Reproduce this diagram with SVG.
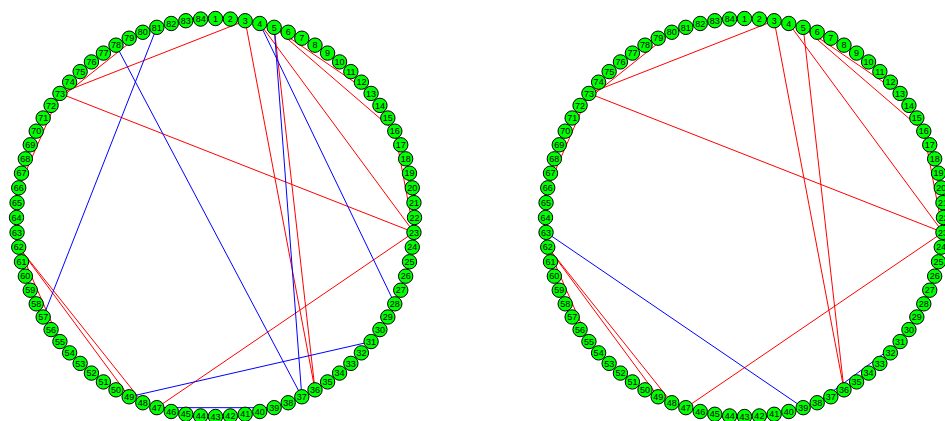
<svg xmlns="http://www.w3.org/2000/svg" width="945" height="421" viewBox="0 0 945 421">
<style>
.n circle{fill:#00ff00;stroke:#000;stroke-width:1}
.n text{font-family:"Liberation Sans",Arial,sans-serif;font-size:9px;fill:#000;text-anchor:middle}
.r{stroke:#ff0000;stroke-width:1;fill:none}
.b{stroke:#0000ff;stroke-width:1;fill:none}
</style>
<rect width="945" height="421" fill="#fff"/>
<g id="left" transform="translate(215.5,217.5)">
<g id="left-connectors">
<line class="r" x1="29.66" y1="-196.78" x2="-155.58" y2="-124.07"/>
<line class="r" x1="29.66" y1="-196.78" x2="99.5" y2="172.34"/>
<line class="r" x1="44.28" y1="-194.01" x2="198.44" y2="14.87"/>
<line class="r" x1="58.66" y1="-190.16" x2="99.5" y2="172.34"/>
<line class="r" x1="58.66" y1="-190.16" x2="155.58" y2="-124.07"/>
<line class="r" x1="58.66" y1="-190.16" x2="179.29" y2="-86.34"/>
<line class="r" x1="179.29" y1="-86.34" x2="198.44" y2="14.87"/>
<line class="r" x1="-155.58" y1="-124.07" x2="198.44" y2="14.87"/>
<line class="r" x1="-72.70" y1="-185.24" x2="-164.42" y2="-112.10"/>
<line class="r" x1="-155.58" y1="-124.07" x2="-196.78" y2="-29.66"/>
<line class="r" x1="-196.78" y1="29.66" x2="-155.58" y2="124.07"/>
<line class="r" x1="-196.78" y1="29.66" x2="-72.70" y2="185.24"/>
<line class="r" x1="-196.78" y1="29.66" x2="-86.34" y2="179.29"/>
<line class="r" x1="-58.66" y1="190.16" x2="198.44" y2="14.87"/>
<line class="r" x1="185.24" y1="72.70" x2="164.42" y2="112.10"/>
<line class="b" x1="-99.5" y1="-172.34" x2="86.34" y2="179.29"/>
<line class="b" x1="-58.66" y1="-190.16" x2="-172.34" y2="99.5"/>
<line class="b" x1="44.28" y1="-194.01" x2="179.29" y2="86.34"/>
<line class="b" x1="58.66" y1="-190.16" x2="86.34" y2="179.29"/>
<line class="b" x1="-86.34" y1="179.29" x2="155.58" y2="124.07"/>
<line class="b" x1="-58.66" y1="190.16" x2="58.66" y2="190.16"/>
</g>
<g id="L1" class="n" transform="translate(0,-199)"><circle r="7.2"/><text y="3.2">1</text></g>
<g id="L2" class="n" transform="translate(14.87,-198.44)"><circle r="7.2"/><text y="3.2">2</text></g>
<g id="L3" class="n" transform="translate(29.66,-196.78)"><circle r="7.2"/><text y="3.2">3</text></g>
<g id="L4" class="n" transform="translate(44.28,-194.01)"><circle r="7.2"/><text y="3.2">4</text></g>
<g id="L5" class="n" transform="translate(58.66,-190.16)"><circle r="7.2"/><text y="3.2">5</text></g>
<g id="L6" class="n" transform="translate(72.70,-185.24)"><circle r="7.2"/><text y="3.2">6</text></g>
<g id="L7" class="n" transform="translate(86.34,-179.29)"><circle r="7.2"/><text y="3.2">7</text></g>
<g id="L8" class="n" transform="translate(99.5,-172.34)"><circle r="7.2"/><text y="3.2">8</text></g>
<g id="L9" class="n" transform="translate(112.10,-164.42)"><circle r="7.2"/><text y="3.2">9</text></g>
<g id="L10" class="n" transform="translate(124.07,-155.58)"><circle r="7.2"/><text y="3.2">10</text></g>
<g id="L11" class="n" transform="translate(135.35,-145.88)"><circle r="7.2"/><text y="3.2">11</text></g>
<g id="L12" class="n" transform="translate(145.88,-135.35)"><circle r="7.2"/><text y="3.2">12</text></g>
<g id="L13" class="n" transform="translate(155.58,-124.07)"><circle r="7.2"/><text y="3.2">13</text></g>
<g id="L14" class="n" transform="translate(164.42,-112.10)"><circle r="7.2"/><text y="3.2">14</text></g>
<g id="L15" class="n" transform="translate(172.34,-99.5)"><circle r="7.2"/><text y="3.2">15</text></g>
<g id="L16" class="n" transform="translate(179.29,-86.34)"><circle r="7.2"/><text y="3.2">16</text></g>
<g id="L17" class="n" transform="translate(185.24,-72.70)"><circle r="7.2"/><text y="3.2">17</text></g>
<g id="L18" class="n" transform="translate(190.16,-58.66)"><circle r="7.2"/><text y="3.2">18</text></g>
<g id="L19" class="n" transform="translate(194.01,-44.28)"><circle r="7.2"/><text y="3.2">19</text></g>
<g id="L20" class="n" transform="translate(196.78,-29.66)"><circle r="7.2"/><text y="3.2">20</text></g>
<g id="L21" class="n" transform="translate(198.44,-14.87)"><circle r="7.2"/><text y="3.2">21</text></g>
<g id="L22" class="n" transform="translate(199,0)"><circle r="7.2"/><text y="3.2">22</text></g>
<g id="L23" class="n" transform="translate(198.44,14.87)"><circle r="7.2"/><text y="3.2">23</text></g>
<g id="L24" class="n" transform="translate(196.78,29.66)"><circle r="7.2"/><text y="3.2">24</text></g>
<g id="L25" class="n" transform="translate(194.01,44.28)"><circle r="7.2"/><text y="3.2">25</text></g>
<g id="L26" class="n" transform="translate(190.16,58.66)"><circle r="7.2"/><text y="3.2">26</text></g>
<g id="L27" class="n" transform="translate(185.24,72.70)"><circle r="7.2"/><text y="3.2">27</text></g>
<g id="L28" class="n" transform="translate(179.29,86.34)"><circle r="7.2"/><text y="3.2">28</text></g>
<g id="L29" class="n" transform="translate(172.34,99.5)"><circle r="7.2"/><text y="3.2">29</text></g>
<g id="L30" class="n" transform="translate(164.42,112.10)"><circle r="7.2"/><text y="3.2">30</text></g>
<g id="L31" class="n" transform="translate(155.58,124.07)"><circle r="7.2"/><text y="3.2">31</text></g>
<g id="L32" class="n" transform="translate(145.88,135.35)"><circle r="7.2"/><text y="3.2">32</text></g>
<g id="L33" class="n" transform="translate(135.35,145.88)"><circle r="7.2"/><text y="3.2">33</text></g>
<g id="L34" class="n" transform="translate(124.07,155.58)"><circle r="7.2"/><text y="3.2">34</text></g>
<g id="L35" class="n" transform="translate(112.10,164.42)"><circle r="7.2"/><text y="3.2">35</text></g>
<g id="L36" class="n" transform="translate(99.5,172.34)"><circle r="7.2"/><text y="3.2">36</text></g>
<g id="L37" class="n" transform="translate(86.34,179.29)"><circle r="7.2"/><text y="3.2">37</text></g>
<g id="L38" class="n" transform="translate(72.70,185.24)"><circle r="7.2"/><text y="3.2">38</text></g>
<g id="L39" class="n" transform="translate(58.66,190.16)"><circle r="7.2"/><text y="3.2">39</text></g>
<g id="L40" class="n" transform="translate(44.28,194.01)"><circle r="7.2"/><text y="3.2">40</text></g>
<g id="L41" class="n" transform="translate(29.66,196.78)"><circle r="7.2"/><text y="3.2">41</text></g>
<g id="L42" class="n" transform="translate(14.87,198.44)"><circle r="7.2"/><text y="3.2">42</text></g>
<g id="L43" class="n" transform="translate(0,199)"><circle r="7.2"/><text y="3.2">43</text></g>
<g id="L44" class="n" transform="translate(-14.87,198.44)"><circle r="7.2"/><text y="3.2">44</text></g>
<g id="L45" class="n" transform="translate(-29.66,196.78)"><circle r="7.2"/><text y="3.2">45</text></g>
<g id="L46" class="n" transform="translate(-44.28,194.01)"><circle r="7.2"/><text y="3.2">46</text></g>
<g id="L47" class="n" transform="translate(-58.66,190.16)"><circle r="7.2"/><text y="3.2">47</text></g>
<g id="L48" class="n" transform="translate(-72.70,185.24)"><circle r="7.2"/><text y="3.2">48</text></g>
<g id="L49" class="n" transform="translate(-86.34,179.29)"><circle r="7.2"/><text y="3.2">49</text></g>
<g id="L50" class="n" transform="translate(-99.5,172.34)"><circle r="7.2"/><text y="3.2">50</text></g>
<g id="L51" class="n" transform="translate(-112.10,164.42)"><circle r="7.2"/><text y="3.2">51</text></g>
<g id="L52" class="n" transform="translate(-124.07,155.58)"><circle r="7.2"/><text y="3.2">52</text></g>
<g id="L53" class="n" transform="translate(-135.35,145.88)"><circle r="7.2"/><text y="3.2">53</text></g>
<g id="L54" class="n" transform="translate(-145.88,135.35)"><circle r="7.2"/><text y="3.2">54</text></g>
<g id="L55" class="n" transform="translate(-155.58,124.07)"><circle r="7.2"/><text y="3.2">55</text></g>
<g id="L56" class="n" transform="translate(-164.42,112.10)"><circle r="7.2"/><text y="3.2">56</text></g>
<g id="L57" class="n" transform="translate(-172.34,99.5)"><circle r="7.2"/><text y="3.2">57</text></g>
<g id="L58" class="n" transform="translate(-179.29,86.34)"><circle r="7.2"/><text y="3.2">58</text></g>
<g id="L59" class="n" transform="translate(-185.24,72.70)"><circle r="7.2"/><text y="3.2">59</text></g>
<g id="L60" class="n" transform="translate(-190.16,58.66)"><circle r="7.2"/><text y="3.2">60</text></g>
<g id="L61" class="n" transform="translate(-194.01,44.28)"><circle r="7.2"/><text y="3.2">61</text></g>
<g id="L62" class="n" transform="translate(-196.78,29.66)"><circle r="7.2"/><text y="3.2">62</text></g>
<g id="L63" class="n" transform="translate(-198.44,14.87)"><circle r="7.2"/><text y="3.2">63</text></g>
<g id="L64" class="n" transform="translate(-199,0)"><circle r="7.2"/><text y="3.2">64</text></g>
<g id="L65" class="n" transform="translate(-198.44,-14.87)"><circle r="7.2"/><text y="3.2">65</text></g>
<g id="L66" class="n" transform="translate(-196.78,-29.66)"><circle r="7.2"/><text y="3.2">66</text></g>
<g id="L67" class="n" transform="translate(-194.01,-44.28)"><circle r="7.2"/><text y="3.2">67</text></g>
<g id="L68" class="n" transform="translate(-190.16,-58.66)"><circle r="7.2"/><text y="3.2">68</text></g>
<g id="L69" class="n" transform="translate(-185.24,-72.70)"><circle r="7.2"/><text y="3.2">69</text></g>
<g id="L70" class="n" transform="translate(-179.29,-86.34)"><circle r="7.2"/><text y="3.2">70</text></g>
<g id="L71" class="n" transform="translate(-172.34,-99.5)"><circle r="7.2"/><text y="3.2">71</text></g>
<g id="L72" class="n" transform="translate(-164.42,-112.10)"><circle r="7.2"/><text y="3.2">72</text></g>
<g id="L73" class="n" transform="translate(-155.58,-124.07)"><circle r="7.2"/><text y="3.2">73</text></g>
<g id="L74" class="n" transform="translate(-145.88,-135.35)"><circle r="7.2"/><text y="3.2">74</text></g>
<g id="L75" class="n" transform="translate(-135.35,-145.88)"><circle r="7.2"/><text y="3.2">75</text></g>
<g id="L76" class="n" transform="translate(-124.07,-155.58)"><circle r="7.2"/><text y="3.2">76</text></g>
<g id="L77" class="n" transform="translate(-112.10,-164.42)"><circle r="7.2"/><text y="3.2">77</text></g>
<g id="L78" class="n" transform="translate(-99.5,-172.34)"><circle r="7.2"/><text y="3.2">78</text></g>
<g id="L79" class="n" transform="translate(-86.34,-179.29)"><circle r="7.2"/><text y="3.2">79</text></g>
<g id="L80" class="n" transform="translate(-72.70,-185.24)"><circle r="7.2"/><text y="3.2">80</text></g>
<g id="L81" class="n" transform="translate(-58.66,-190.16)"><circle r="7.2"/><text y="3.2">81</text></g>
<g id="L82" class="n" transform="translate(-44.28,-194.01)"><circle r="7.2"/><text y="3.2">82</text></g>
<g id="L83" class="n" transform="translate(-29.66,-196.78)"><circle r="7.2"/><text y="3.2">83</text></g>
<g id="L84" class="n" transform="translate(-14.87,-198.44)"><circle r="7.2"/><text y="3.2">84</text></g>
</g>
<g id="right" transform="translate(744.5,217.5)">
<g id="right-connectors">
<line class="r" x1="29.66" y1="-196.78" x2="-155.58" y2="-124.07"/>
<line class="r" x1="29.66" y1="-196.78" x2="99.5" y2="172.34"/>
<line class="r" x1="44.28" y1="-194.01" x2="198.44" y2="14.87"/>
<line class="r" x1="58.66" y1="-190.16" x2="99.5" y2="172.34"/>
<line class="r" x1="58.66" y1="-190.16" x2="155.58" y2="-124.07"/>
<line class="r" x1="58.66" y1="-190.16" x2="179.29" y2="-86.34"/>
<line class="r" x1="179.29" y1="-86.34" x2="198.44" y2="14.87"/>
<line class="r" x1="-155.58" y1="-124.07" x2="198.44" y2="14.87"/>
<line class="r" x1="-72.70" y1="-185.24" x2="-164.42" y2="-112.10"/>
<line class="r" x1="-155.58" y1="-124.07" x2="-196.78" y2="-29.66"/>
<line class="r" x1="-196.78" y1="29.66" x2="-155.58" y2="124.07"/>
<line class="r" x1="-196.78" y1="29.66" x2="-72.70" y2="185.24"/>
<line class="r" x1="-196.78" y1="29.66" x2="-86.34" y2="179.29"/>
<line class="r" x1="-58.66" y1="190.16" x2="198.44" y2="14.87"/>
<line class="r" x1="185.24" y1="72.70" x2="164.42" y2="112.10"/>
<line class="b" x1="-198.44" y1="14.87" x2="58.66" y2="190.16"/>
<line class="b" x1="72.70" y1="185.24" x2="155.58" y2="124.07"/>
</g>
<g id="R1" class="n" transform="translate(0,-199)"><circle r="7.2"/><text y="3.2">1</text></g>
<g id="R2" class="n" transform="translate(14.87,-198.44)"><circle r="7.2"/><text y="3.2">2</text></g>
<g id="R3" class="n" transform="translate(29.66,-196.78)"><circle r="7.2"/><text y="3.2">3</text></g>
<g id="R4" class="n" transform="translate(44.28,-194.01)"><circle r="7.2"/><text y="3.2">4</text></g>
<g id="R5" class="n" transform="translate(58.66,-190.16)"><circle r="7.2"/><text y="3.2">5</text></g>
<g id="R6" class="n" transform="translate(72.70,-185.24)"><circle r="7.2"/><text y="3.2">6</text></g>
<g id="R7" class="n" transform="translate(86.34,-179.29)"><circle r="7.2"/><text y="3.2">7</text></g>
<g id="R8" class="n" transform="translate(99.5,-172.34)"><circle r="7.2"/><text y="3.2">8</text></g>
<g id="R9" class="n" transform="translate(112.10,-164.42)"><circle r="7.2"/><text y="3.2">9</text></g>
<g id="R10" class="n" transform="translate(124.07,-155.58)"><circle r="7.2"/><text y="3.2">10</text></g>
<g id="R11" class="n" transform="translate(135.35,-145.88)"><circle r="7.2"/><text y="3.2">11</text></g>
<g id="R12" class="n" transform="translate(145.88,-135.35)"><circle r="7.2"/><text y="3.2">12</text></g>
<g id="R13" class="n" transform="translate(155.58,-124.07)"><circle r="7.2"/><text y="3.2">13</text></g>
<g id="R14" class="n" transform="translate(164.42,-112.10)"><circle r="7.2"/><text y="3.2">14</text></g>
<g id="R15" class="n" transform="translate(172.34,-99.5)"><circle r="7.2"/><text y="3.2">15</text></g>
<g id="R16" class="n" transform="translate(179.29,-86.34)"><circle r="7.2"/><text y="3.2">16</text></g>
<g id="R17" class="n" transform="translate(185.24,-72.70)"><circle r="7.2"/><text y="3.2">17</text></g>
<g id="R18" class="n" transform="translate(190.16,-58.66)"><circle r="7.2"/><text y="3.2">18</text></g>
<g id="R19" class="n" transform="translate(194.01,-44.28)"><circle r="7.2"/><text y="3.2">19</text></g>
<g id="R20" class="n" transform="translate(196.78,-29.66)"><circle r="7.2"/><text y="3.2">20</text></g>
<g id="R21" class="n" transform="translate(198.44,-14.87)"><circle r="7.2"/><text y="3.2">21</text></g>
<g id="R22" class="n" transform="translate(199,0)"><circle r="7.2"/><text y="3.2">22</text></g>
<g id="R23" class="n" transform="translate(198.44,14.87)"><circle r="7.2"/><text y="3.2">23</text></g>
<g id="R24" class="n" transform="translate(196.78,29.66)"><circle r="7.2"/><text y="3.2">24</text></g>
<g id="R25" class="n" transform="translate(194.01,44.28)"><circle r="7.2"/><text y="3.2">25</text></g>
<g id="R26" class="n" transform="translate(190.16,58.66)"><circle r="7.2"/><text y="3.2">26</text></g>
<g id="R27" class="n" transform="translate(185.24,72.70)"><circle r="7.2"/><text y="3.2">27</text></g>
<g id="R28" class="n" transform="translate(179.29,86.34)"><circle r="7.2"/><text y="3.2">28</text></g>
<g id="R29" class="n" transform="translate(172.34,99.5)"><circle r="7.2"/><text y="3.2">29</text></g>
<g id="R30" class="n" transform="translate(164.42,112.10)"><circle r="7.2"/><text y="3.2">30</text></g>
<g id="R31" class="n" transform="translate(155.58,124.07)"><circle r="7.2"/><text y="3.2">31</text></g>
<g id="R32" class="n" transform="translate(145.88,135.35)"><circle r="7.2"/><text y="3.2">32</text></g>
<g id="R33" class="n" transform="translate(135.35,145.88)"><circle r="7.2"/><text y="3.2">33</text></g>
<g id="R34" class="n" transform="translate(124.07,155.58)"><circle r="7.2"/><text y="3.2">34</text></g>
<g id="R35" class="n" transform="translate(112.10,164.42)"><circle r="7.2"/><text y="3.2">35</text></g>
<g id="R36" class="n" transform="translate(99.5,172.34)"><circle r="7.2"/><text y="3.2">36</text></g>
<g id="R37" class="n" transform="translate(86.34,179.29)"><circle r="7.2"/><text y="3.2">37</text></g>
<g id="R38" class="n" transform="translate(72.70,185.24)"><circle r="7.2"/><text y="3.2">38</text></g>
<g id="R39" class="n" transform="translate(58.66,190.16)"><circle r="7.2"/><text y="3.2">39</text></g>
<g id="R40" class="n" transform="translate(44.28,194.01)"><circle r="7.2"/><text y="3.2">40</text></g>
<g id="R41" class="n" transform="translate(29.66,196.78)"><circle r="7.2"/><text y="3.2">41</text></g>
<g id="R42" class="n" transform="translate(14.87,198.44)"><circle r="7.2"/><text y="3.2">42</text></g>
<g id="R43" class="n" transform="translate(0,199)"><circle r="7.2"/><text y="3.2">43</text></g>
<g id="R44" class="n" transform="translate(-14.87,198.44)"><circle r="7.2"/><text y="3.2">44</text></g>
<g id="R45" class="n" transform="translate(-29.66,196.78)"><circle r="7.2"/><text y="3.2">45</text></g>
<g id="R46" class="n" transform="translate(-44.28,194.01)"><circle r="7.2"/><text y="3.2">46</text></g>
<g id="R47" class="n" transform="translate(-58.66,190.16)"><circle r="7.2"/><text y="3.2">47</text></g>
<g id="R48" class="n" transform="translate(-72.70,185.24)"><circle r="7.2"/><text y="3.2">48</text></g>
<g id="R49" class="n" transform="translate(-86.34,179.29)"><circle r="7.2"/><text y="3.2">49</text></g>
<g id="R50" class="n" transform="translate(-99.5,172.34)"><circle r="7.2"/><text y="3.2">50</text></g>
<g id="R51" class="n" transform="translate(-112.10,164.42)"><circle r="7.2"/><text y="3.2">51</text></g>
<g id="R52" class="n" transform="translate(-124.07,155.58)"><circle r="7.2"/><text y="3.2">52</text></g>
<g id="R53" class="n" transform="translate(-135.35,145.88)"><circle r="7.2"/><text y="3.2">53</text></g>
<g id="R54" class="n" transform="translate(-145.88,135.35)"><circle r="7.2"/><text y="3.2">54</text></g>
<g id="R55" class="n" transform="translate(-155.58,124.07)"><circle r="7.2"/><text y="3.2">55</text></g>
<g id="R56" class="n" transform="translate(-164.42,112.10)"><circle r="7.2"/><text y="3.2">56</text></g>
<g id="R57" class="n" transform="translate(-172.34,99.5)"><circle r="7.2"/><text y="3.2">57</text></g>
<g id="R58" class="n" transform="translate(-179.29,86.34)"><circle r="7.2"/><text y="3.2">58</text></g>
<g id="R59" class="n" transform="translate(-185.24,72.70)"><circle r="7.2"/><text y="3.2">59</text></g>
<g id="R60" class="n" transform="translate(-190.16,58.66)"><circle r="7.2"/><text y="3.2">60</text></g>
<g id="R61" class="n" transform="translate(-194.01,44.28)"><circle r="7.2"/><text y="3.2">61</text></g>
<g id="R62" class="n" transform="translate(-196.78,29.66)"><circle r="7.2"/><text y="3.2">62</text></g>
<g id="R63" class="n" transform="translate(-198.44,14.87)"><circle r="7.2"/><text y="3.2">63</text></g>
<g id="R64" class="n" transform="translate(-199,0)"><circle r="7.2"/><text y="3.2">64</text></g>
<g id="R65" class="n" transform="translate(-198.44,-14.87)"><circle r="7.2"/><text y="3.2">65</text></g>
<g id="R66" class="n" transform="translate(-196.78,-29.66)"><circle r="7.2"/><text y="3.2">66</text></g>
<g id="R67" class="n" transform="translate(-194.01,-44.28)"><circle r="7.2"/><text y="3.2">67</text></g>
<g id="R68" class="n" transform="translate(-190.16,-58.66)"><circle r="7.2"/><text y="3.2">68</text></g>
<g id="R69" class="n" transform="translate(-185.24,-72.70)"><circle r="7.2"/><text y="3.2">69</text></g>
<g id="R70" class="n" transform="translate(-179.29,-86.34)"><circle r="7.2"/><text y="3.2">70</text></g>
<g id="R71" class="n" transform="translate(-172.34,-99.5)"><circle r="7.2"/><text y="3.2">71</text></g>
<g id="R72" class="n" transform="translate(-164.42,-112.10)"><circle r="7.2"/><text y="3.2">72</text></g>
<g id="R73" class="n" transform="translate(-155.58,-124.07)"><circle r="7.2"/><text y="3.2">73</text></g>
<g id="R74" class="n" transform="translate(-145.88,-135.35)"><circle r="7.2"/><text y="3.2">74</text></g>
<g id="R75" class="n" transform="translate(-135.35,-145.88)"><circle r="7.2"/><text y="3.2">75</text></g>
<g id="R76" class="n" transform="translate(-124.07,-155.58)"><circle r="7.2"/><text y="3.2">76</text></g>
<g id="R77" class="n" transform="translate(-112.10,-164.42)"><circle r="7.2"/><text y="3.2">77</text></g>
<g id="R78" class="n" transform="translate(-99.5,-172.34)"><circle r="7.2"/><text y="3.2">78</text></g>
<g id="R79" class="n" transform="translate(-86.34,-179.29)"><circle r="7.2"/><text y="3.2">79</text></g>
<g id="R80" class="n" transform="translate(-72.70,-185.24)"><circle r="7.2"/><text y="3.2">80</text></g>
<g id="R81" class="n" transform="translate(-58.66,-190.16)"><circle r="7.2"/><text y="3.2">81</text></g>
<g id="R82" class="n" transform="translate(-44.28,-194.01)"><circle r="7.2"/><text y="3.2">82</text></g>
<g id="R83" class="n" transform="translate(-29.66,-196.78)"><circle r="7.2"/><text y="3.2">83</text></g>
<g id="R84" class="n" transform="translate(-14.87,-198.44)"><circle r="7.2"/><text y="3.2">84</text></g>
</g>
</svg>
